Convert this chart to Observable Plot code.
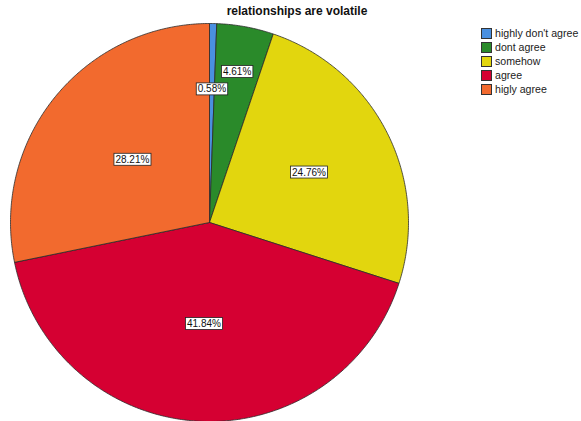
<!DOCTYPE html>
<html>
<head>
<meta charset="utf-8">
<script src="https://cdn.jsdelivr.net/npm/d3@7"></script>
<script src="https://cdn.jsdelivr.net/npm/@observablehq/plot@0.6"></script>
<style>
  html, body { margin: 0; padding: 0; background: #fff; }
  #wrap { position: relative; width: 581px; height: 421px; overflow: hidden; font-family: "Liberation Sans", Arial, sans-serif; }
  #legend { position: absolute; left: 481px; top: 26px; }
  #legend .lg-row { display: flex; align-items: center; height: 14px; font-size: 10.6px; color: #222; white-space: nowrap; }
  #legend svg { margin-right: 3px; }
</style>
</head>
<body>
<div id="wrap"></div>
<script>
// ---- data ----
const title = "relationships are volatile";
const categories = ["highly don't agree", "dont agree", "somehow", "agree", "higly agree"];
const percents = [0.58, 4.61, 24.76, 41.84, 28.21];
const colors = ["#4a90e0", "#2a8a2a", "#e2d60e", "#d50032", "#f26a2e"];
// label distance from centre (fraction of radius), layout only
const labelRadius = [0.67, 0.77, 0.56, 0.51, 0.5];

// ---- layout ----
const W = 581, H = 421, cx = 209, cy = 222, R = 199;

// ---- build slice polygons from the data ----
const pie = d3.pie().sort(null).value(d => d)(percents);
const polyRows = [];
const labels = [];
pie.forEach((p, i) => {
  const cat = categories[i];
  polyRows.push({cat, u: 0, v: 0});
  const steps = Math.max(2, Math.ceil((p.endAngle - p.startAngle) / (Math.PI / 360)));
  for (let k = 0; k <= steps; k++) {
    const a = p.startAngle + (p.endAngle - p.startAngle) * k / steps;
    polyRows.push({cat, u: Math.sin(a), v: Math.cos(a)});
  }
  polyRows.push({cat, u: 0, v: 0});
  const mid = (p.startAngle + p.endAngle) / 2;
  labels.push({cat, u: labelRadius[i] * Math.sin(mid), v: labelRadius[i] * Math.cos(mid), text: percents[i].toFixed(2) + "%"});
});

const chart = Plot.plot({
  width: W, height: H, margin: 0,
  style: {fontFamily: "'Liberation Sans', Arial, sans-serif", background: "#fff"},
  x: {domain: [-cx / R, (W - cx) / R], range: [0, W], axis: null},
  y: {domain: [cy / R, (cy - H) / R], range: [0, H], axis: null},
  color: {domain: categories, range: colors},
  marks: [
    Plot.line(polyRows, {x: "u", y: "v", z: "cat", fill: "cat", stroke: "#2b2b2b", strokeWidth: 0.8, strokeLinejoin: "miter", curve: "linear"}),
    Plot.text(labels, {x: "u", y: "v", text: "text", fontSize: 10, fill: "#111", className: "pie-labels"}),
    Plot.text([title], {frameAnchor: "top", dx: 6, dy: 6, lineAnchor: "top", fontWeight: "bold", fontSize: 12, fill: "#111"})
  ]
});
document.getElementById("wrap").appendChild(chart);

// white boxes behind the labels
document.querySelectorAll("g.pie-labels text").forEach(t => {
  const b = t.getBBox();
  const r = document.createElementNS("http://www.w3.org/2000/svg", "rect");
  r.setAttribute("x", b.x - 1.5);
  r.setAttribute("y", b.y - 0.5);
  r.setAttribute("width", b.width + 3);
  r.setAttribute("height", b.height + 1);
  r.setAttribute("fill", "#fff");
  r.setAttribute("stroke", "#222");
  r.setAttribute("stroke-width", 0.8);
  if (t.getAttribute("transform")) r.setAttribute("transform", t.getAttribute("transform"));
  t.parentNode.insertBefore(r, t);
});

// legend (swatches drawn with Plot's colour scale)
const color = chart.scale("color");
const lg = document.createElement("div");
lg.id = "legend";
categories.forEach(c => {
  const row = document.createElement("div");
  row.className = "lg-row";
  row.innerHTML = `<svg width="11" height="11"><rect x="0.5" y="0.5" width="10" height="10" fill="${color.apply(c)}" stroke="#333" stroke-width="1"></rect></svg><span>${c}</span>`;
  lg.appendChild(row);
});
document.getElementById("wrap").appendChild(lg);
</script>
</body>
</html>
